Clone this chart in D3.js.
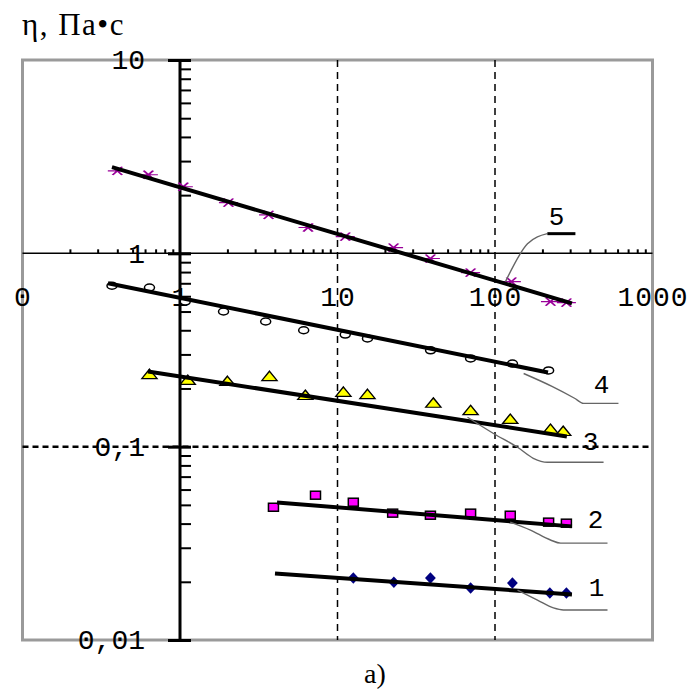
<!DOCTYPE html>
<html lang="ru">
<head>
<meta charset="UTF-8">
<title>η(γ)</title>
<style>
  body { margin: 0; background: #fff; }
</style>
</head>
<body>
<svg id="chart" width="691" height="693"></svg>
<script src="https://d3js.org/d3.v7.min.js"></script>
<script>
// values: shear rate (x) and viscosity eta, curves 1..5
const xs1 = [12.6, 22.8, 38.9, 70, 129, 223, 284];
const eta1 = [0.0209, 0.0199, 0.0209, 0.0186, 0.0197, 0.0175, 0.0175];

const xs2 = [3.92, 7.25, 12.6, 22.4, 38.9, 70, 125, 219, 284];
const eta2 = [0.0486, 0.0561, 0.0516, 0.0453, 0.0442, 0.0453, 0.0442, 0.0407, 0.0402];

const xs3 = [0.64, 1.12, 2.0, 3.7, 6.25, 10.9, 15.5, 40.6, 70, 125, 225, 271];
const eta3 = [0.2335, 0.218, 0.215, 0.228, 0.182, 0.189, 0.184, 0.166, 0.152, 0.137, 0.1215, 0.1186];

const xs4 = [0.37, 0.64, 1.08, 1.89, 3.5, 6.1, 11.2, 15.5, 39, 70, 129, 219];
const eta4 = [0.68, 0.665, 0.563, 0.50, 0.444, 0.40, 0.38, 0.363, 0.315, 0.286, 0.269, 0.248];

const xs5 = [0.40, 0.63, 1.05, 2.03, 3.65, 6.5, 11.2, 22.7, 38.9, 70, 127, 225, 284];
const eta5 = [2.67, 2.55, 2.21, 1.83, 1.58, 1.36, 1.22, 1.07, 0.94, 0.795, 0.714, 0.563, 0.556];

// straight fits (end points) for each curve
const fit1 = [[4.01, 0.0221], [308, 0.0172]];
const fit2 = [[4.13, 0.0515], [308, 0.0387]];
const fit3 = [[0.626, 0.245], [286, 0.113]];
const fit4 = [[0.349, 0.70], [217, 0.242]];
const fit5 = [[0.37, 2.79], [308, 0.551]];

// leader lines to the curve numbers
const lead1 = [[139, 0.0181], [186, 0.0161], [235, 0.01465], [272, 0.0143], [518, 0.0143]];
const lead2 = [[125, 0.0407], [168, 0.037], [225, 0.0329], [261, 0.0317], [518, 0.0317]];
const lead3 = [[66.9, 0.142], [97.8, 0.117], [139, 0.0993], [175, 0.0871], [215, 0.083], [489, 0.083]];
const lead4 = [[152, 0.239], [230, 0.205], [320, 0.178], [365, 0.1675], [608, 0.1675]];
const lead5 = [[116.6, 0.714], [160.8, 1.12], [215, 1.264]];
const lead5bar = [[215, 1.264], [324, 1.264]];
const curveNames = ["1", "2", "3", "4", "5"];
const namePos = [[441, 0.0183], [435, 0.0411], [404, 0.105], [474, 0.205], [246, 1.53]];

// axes
const yTickVals = [10, 1, 0.1, 0.01];
const yTickLabels = ["10", "1", "0,1", "0,01"];
const xTickVals = [0.1, 1, 10, 100, 1000];
const xTickLabels = ["0", "1", "10", "100", "1000"];
const yTitle = "η, Па•с";
const caption = "a)";

const svg = d3.select("#chart");
svg.append("rect").attr("width", 691).attr("height", 693).attr("fill", "#fff");

const x = d3.scaleLog().domain([0.1, 1000]).range([22.5, 652.5]);
const y = d3.scaleLog().domain([0.01, 10]).range([640, 60]);

const minors = (lo, hi) => {
  const out = [];
  for (let d = lo; d < hi; d *= 10) for (let k = 2; k <= 9; k++) out.push(d * k);
  return out;
};

// frame
svg.append("rect")
  .attr("x", x(0.1)).attr("y", y(10))
  .attr("width", x(1000) - x(0.1)).attr("height", y(0.01) - y(10))
  .attr("fill", "none").attr("stroke", "#9a9a9a").attr("stroke-width", 3);

// dashed grid
svg.selectAll(".vgrid").data([10, 100]).join("line")
  .attr("x1", d => x(d)).attr("x2", d => x(d))
  .attr("y1", y(10)).attr("y2", y(0.01))
  .attr("stroke", "#000").attr("stroke-width", 1.5).attr("stroke-dasharray", "7,5");
svg.append("line")
  .attr("x1", x(0.1)).attr("x2", x(1000)).attr("y1", y(0.1)).attr("y2", y(0.1))
  .attr("stroke", "#000").attr("stroke-width", 2.5).attr("stroke-dasharray", "6,4");

// line eta = 1 with small ticks
svg.append("line")
  .attr("x1", x(0.1)).attr("x2", x(1000)).attr("y1", y(1)).attr("y2", y(1))
  .attr("stroke", "#000").attr("stroke-width", 1.5);
const xTicks = svg.append("g").attr("transform", `translate(0,${y(1)})`)
  .call(d3.axisTop(x).tickValues(minors(0.1, 1000)).tickSize(4).tickFormat(""));
xTicks.select(".domain").remove();
xTicks.selectAll("line").attr("stroke-width", 2);

const xLab = svg.append("g").attr("transform", `translate(0,${y(1)})`)
  .call(d3.axisBottom(x).tickValues(xTickVals).tickSize(0).tickPadding(33)
    .tickFormat((d, i) => xTickLabels[i]));
xLab.select(".domain").remove();
xLab.selectAll("text").attr("font-family", "Liberation Mono").attr("font-size", 28)
  .attr("letter-spacing", 1);

// vertical axis at x = 1
const yLeft = svg.append("g").attr("transform", `translate(${x(1)},0)`)
  .call(d3.axisLeft(y).tickValues(yTickVals).tickSize(12).tickPadding(23)
    .tickFormat((d, i) => yTickLabels[i]));
yLeft.select(".domain").remove();
yLeft.selectAll("line").attr("stroke-width", 3);
yLeft.selectAll("text").attr("font-family", "Liberation Mono").attr("font-size", 28);

const yRight = svg.append("g").attr("transform", `translate(${x(1)},0)`)
  .call(d3.axisRight(y).tickValues(yTickVals.concat(minors(0.01, 10))).tickSize(11).tickFormat(""));
yRight.select(".domain").remove();
yRight.selectAll("line").attr("stroke-width", (d) => yTickVals.includes(d) ? 3 : 2);

svg.append("line")
  .attr("x1", x(1)).attr("x2", x(1)).attr("y1", y(10)).attr("y2", y(0.01))
  .attr("stroke", "#000").attr("stroke-width", 3);

// markers
const pts = (xs, ys) => xs.map((v, i) => [v, ys[i]]);

svg.append("g").selectAll("path").data(pts(xs5, eta5)).join("path")
  .attr("d", d3.symbol(d3.symbolAsterisk, 130))
  .attr("transform", d => `translate(${x(d[0])},${y(d[1])}) scale(1.4,0.7) rotate(90)`)
  .attr("fill", "none").attr("stroke", "#990099").attr("stroke-width", 1.6);

svg.append("g").selectAll("ellipse").data(pts(xs4, eta4)).join("ellipse")
  .attr("cx", d => x(d[0])).attr("cy", d => y(d[1]))
  .attr("rx", 5).attr("ry", 3.5)
  .attr("fill", "#fff").attr("stroke", "#000").attr("stroke-width", 1.5);

svg.append("g").selectAll("path").data(pts(xs3, eta3)).join("path")
  .attr("d", d3.symbol(d3.symbolTriangle, 70))
  .attr("transform", d => `translate(${x(d[0])},${y(d[1])}) scale(1.2,0.85)`)
  .attr("fill", "#ffff00").attr("stroke", "#000").attr("stroke-width", 1.3);

svg.append("g").selectAll("rect").data(pts(xs2, eta2)).join("rect")
  .attr("x", d => x(d[0]) - 5).attr("y", d => y(d[1]) - 4)
  .attr("width", 10).attr("height", 8)
  .attr("fill", "#ff00ff").attr("stroke", "#000").attr("stroke-width", 1.5);

svg.append("g").selectAll("path").data(pts(xs1, eta1)).join("path")
  .attr("d", d3.symbol(d3.symbolDiamond, 60))
  .attr("transform", d => `translate(${x(d[0])},${y(d[1])}) scale(1.3,0.8)`)
  .attr("fill", "#000080");

// fitted lines
const line = d3.line().x(d => x(d[0])).y(d => y(d[1]));
svg.append("g").selectAll("path").data([fit1, fit2, fit3, fit4, fit5]).join("path")
  .attr("d", line)
  .attr("fill", "none").attr("stroke", "#000").attr("stroke-width", 4);

// leaders and curve numbers
const curvy = d3.line().x(d => x(d[0])).y(d => y(d[1])).curve(d3.curveMonotoneX);
svg.append("g").selectAll("path").data([lead1, lead2, lead3, lead4, lead5]).join("path")
  .attr("d", curvy)
  .attr("fill", "none").attr("stroke", "#666").attr("stroke-width", 1.4);
svg.append("path").datum(lead5bar).attr("d", line)
  .attr("stroke", "#000").attr("stroke-width", 3);

svg.append("g").selectAll("text").data(curveNames).join("text")
  .attr("x", (d, i) => x(namePos[i][0])).attr("y", (d, i) => y(namePos[i][1]))
  .attr("text-anchor", "middle").attr("dominant-baseline", "central")
  .attr("font-family", "Liberation Mono").attr("font-size", 26)
  .text(d => d);

// titles
svg.append("text").attr("x", 22).attr("y", 35)
  .attr("font-family", "Liberation Serif").attr("font-size", 31)
  .attr("letter-spacing", 1.5)
  .text(yTitle);
svg.append("text").attr("x", 375).attr("y", 683)
  .attr("text-anchor", "middle")
  .attr("font-family", "Liberation Serif").attr("font-size", 28)
  .text(caption);
</script>
</body>
</html>
